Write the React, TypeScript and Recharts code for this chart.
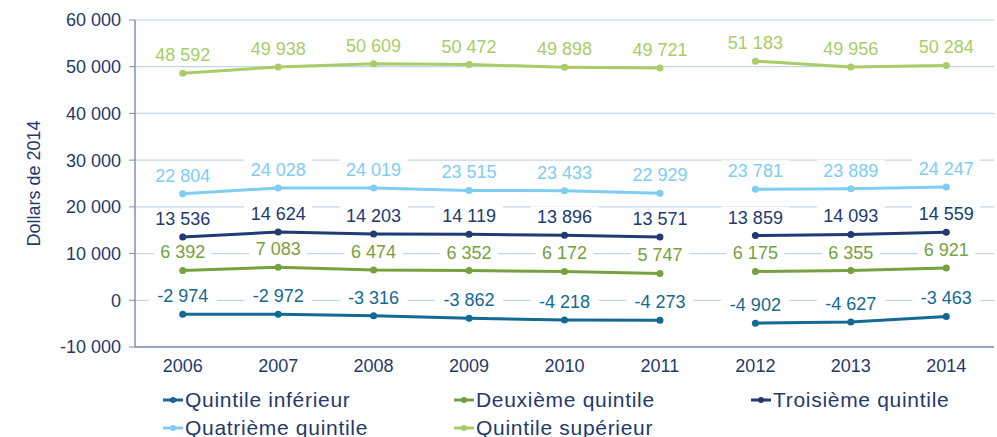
import React from "react"
import {
  LineChart,
  Line,
  XAxis,
  YAxis,
  CartesianGrid,
  LabelList,
} from "recharts"

const years = ["2006", "2007", "2008", "2009", "2010", "2011", "2012", "2013", "2014"]
// the series are broken between 2011 and 2012
const breakYear = "2012"

const quintileInferieur = [-2974, -2972, -3316, -3862, -4218, -4273, -4902, -4627, -3463]
const deuxiemeQuintile = [6392, 7083, 6474, 6352, 6172, 5747, 6175, 6355, 6921]
const troisiemeQuintile = [13536, 14624, 14203, 14119, 13896, 13571, 13859, 14093, 14559]
const quatriemeQuintile = [22804, 24028, 24019, 23515, 23433, 22929, 23781, 23889, 24247]
const quintileSuperieur = [48592, 49938, 50609, 50472, 49898, 49721, 51183, 49956, 50284]

const yTicks = [-10000, 0, 10000, 20000, 30000, 40000, 50000, 60000]

const series = [
  { key: "q1", name: "Quintile inférieur", values: quintileInferieur, color: "#136A92" },
  { key: "q2", name: "Deuxième quintile", values: deuxiemeQuintile, color: "#76A13F" },
  { key: "q3", name: "Troisième quintile", values: troisiemeQuintile, color: "#203A72" },
  { key: "q4", name: "Quatrième quintile", values: quatriemeQuintile, color: "#7ECDF3" },
  { key: "q5", name: "Quintile supérieur", values: quintileSuperieur, color: "#A8CD67" },
]

const breakIdx = years.indexOf(breakYear)

const chartData = years.map((year, i) => {
  const row: Record<string, string | number | null> = { year }
  series.forEach((s) => {
    row[s.key + "a"] = i < breakIdx ? s.values[i] : null
    row[s.key + "b"] = i >= breakIdx ? s.values[i] : null
  })
  return row
})

const fmt = (v: number) => {
  const neg = v < 0
  const s = String(Math.abs(v)).replace(/\B(?=(\d{3})+(?!\d))/g, " ")
  return (neg ? "-" : "") + s
}

const FONT = "'Liberation Sans', Arial, sans-serif"
const AXIS_TEXT = "#1F3A6B"

const makeLabel = (color: string) => (props: any) => {
  const { x, y, value } = props
  if (value === null || value === undefined) return null
  const text = fmt(value)
  const w = text.length * 10 + 8
  return (
    <g>
      <rect x={x - w / 2} y={y - 29} width={w} height={20} fill="#fff" />
      <text
        x={x}
        y={y - 12}
        textAnchor="middle"
        fill={color}
        fontSize={18}
        fontFamily={FONT}
      >
        {text}
      </text>
    </g>
  )
}

const YearTick = (props: any) => {
  const { x, y, payload } = props
  return (
    <text x={x} y={y + 17} textAnchor="middle" fill={AXIS_TEXT} fontSize={18} fontFamily={FONT}>
      {payload.value}
    </text>
  )
}

const LegendItem = ({ name, color }: { name: string; color: string }) => (
  <div style={{ display: "flex", alignItems: "center", height: 28 }}>
    <svg width={22} height={10} style={{ marginRight: 1 }}>
      <line x1={1} y1={5} x2={21} y2={5} stroke={color} strokeWidth={3} />
      <circle cx={11} cy={5} r={3} fill={color} />
    </svg>
    <span style={{ fontSize: 21, letterSpacing: 0.7, color: AXIS_TEXT }}>{name}</span>
  </div>
)

export default function App() {
  return (
    <div
      style={{
        position: "absolute",
        left: 0,
        top: 0,
        width: 997,
        height: 437,
        background: "#fff",
        fontFamily: FONT,
        overflow: "hidden",
      }}
    >
      <LineChart
        width={997}
        height={385}
        data={chartData}
        margin={{ top: 20, right: 3, left: 0, bottom: 0 }}
      >
        <CartesianGrid vertical={false} stroke="#C6D4EC" strokeWidth={1.2} />
        <XAxis
          xAxisId="bounds"
          type="number"
          domain={[0, years.length]}
          ticks={Array.from({ length: years.length + 1 }, (_, i) => i)}
          allowDataOverflow
          height={0}
          axisLine={false}
          tickLine={{ stroke: "#7F90AE", strokeWidth: 1.2 }}
          tickSize={7}
          tick={() => <g />}
        />
        <XAxis
          xAxisId="cat"
          dataKey="year"
          scale="band"
          height={38}
          axisLine={{ stroke: "#7F90AE", strokeWidth: 1.5 }}
          tickLine={false}
          tick={<YearTick />}
          interval={0}
        />
        <YAxis
          width={135}
          domain={[-10000, 60000]}
          ticks={yTicks}
          interval={0}
          tickFormatter={fmt}
          axisLine={{ stroke: "#7F90AE", strokeWidth: 1.5 }}
          tickLine={{ stroke: "#7F90AE" }}
          tickSize={6}
          tickMargin={8}
          tick={{ fill: AXIS_TEXT, fontSize: 18, fontFamily: FONT }}
          label={{
            value: "Dollars de 2014",
            angle: -90,
            position: "insideLeft",
            dx: 29,
            style: { fill: AXIS_TEXT, fontSize: 18, fontFamily: FONT, textAnchor: "middle" },
          }}
        />
        {series.flatMap((s) =>
          ["a", "b"].map((part) => (
            <Line
              key={s.key + part}
              xAxisId="cat"
              dataKey={s.key + part}
              name={s.name}
              stroke={s.color}
              strokeWidth={3}
              dot={{ r: 3.5, fill: s.color, stroke: s.color, strokeWidth: 0 }}
              activeDot={false}
              connectNulls={false}
              isAnimationActive={false}
            >
              <LabelList dataKey={s.key + part} content={makeLabel(s.color)} />
            </Line>
          ))
        )}
      </LineChart>
      <div
        style={{
          position: "absolute",
          left: 162,
          top: 386,
          display: "grid",
          gridTemplateColumns: "291px 297px 250px",
          rowGap: 0,
        }}
      >
        {series.map((s) => (
          <LegendItem key={s.key} name={s.name} color={s.color} />
        ))}
      </div>
    </div>
  )
}
